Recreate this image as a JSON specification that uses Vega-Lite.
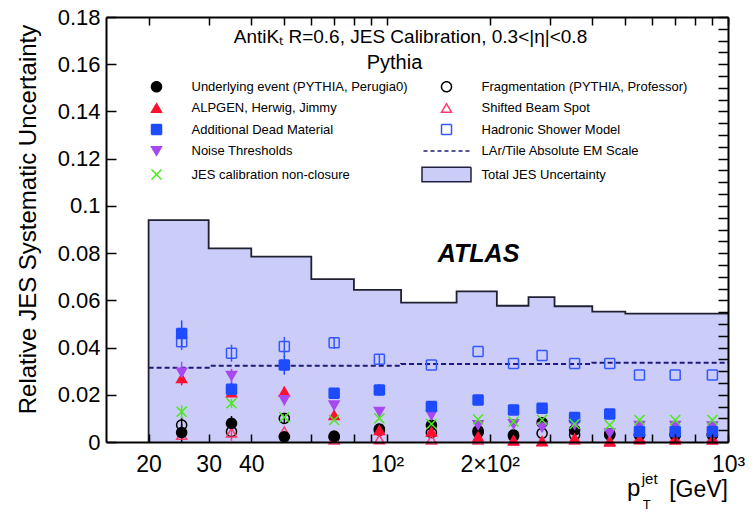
{
  "$schema": "https://vega.github.io/schema/vega-lite/v6.json",
  "width": 622,
  "height": 425,
  "autosize": {"type": "none"},
  "padding": {"left": 106, "top": 17, "right": 25, "bottom": 70},
  "background": "white",
  "config": {
    "view": {"stroke": null},
    "font": "Liberation Sans",
    "axis": {"grid": false, "labelColor": "#000000", "labelFont": "Liberation Sans", "labelFlush": false, "labelOverlap": false, "titleColor": "#000000", "titleFont": "Liberation Sans", "titleFontWeight": "normal"}
  },
  "datasets": {
    "total": [
      {"i": 0, "pt": 20, "v": 0},
      {"i": 1, "pt": 20, "v": 0.094},
      {"i": 2, "pt": 30, "v": 0.082},
      {"i": 3, "pt": 40, "v": 0.0785},
      {"i": 4, "pt": 60, "v": 0.069},
      {"i": 5, "pt": 80, "v": 0.0644},
      {"i": 6, "pt": 110, "v": 0.059},
      {"i": 7, "pt": 160, "v": 0.0638},
      {"i": 8, "pt": 210, "v": 0.0577},
      {"i": 9, "pt": 260, "v": 0.0614},
      {"i": 10, "pt": 310, "v": 0.0575},
      {"i": 11, "pt": 400, "v": 0.0552},
      {"i": 12, "pt": 500, "v": 0.0544},
      {"i": 13, "pt": 600, "v": 0.0544},
      {"i": 14, "pt": 800, "v": 0.0544},
      {"i": 15, "pt": 1000, "v": 0.0544}
    ],
    "lar": [
      {"pt": 20, "v": 0.0315},
      {"pt": 30, "v": 0.0323},
      {"pt": 110, "v": 0.033},
      {"pt": 400, "v": 0.0336},
      {"pt": 1000, "v": 0.0336}
    ],
    "pts": [
      {"pt": 25, "Hadronic Shower Model": 0.0425, "Fragmentation (PYTHIA, Professor)": 0.0072, "Shifted Beam Spot": 0.003, "Underlying event (PYTHIA, Perugia0)": 0.004, "ALPGEN, Herwig, Jimmy": 0.027, "Noise Thresholds": 0.0294, "Additional Dead Material": 0.046, "JES calibration non-closure": 0.0128},
      {"pt": 35, "Hadronic Shower Model": 0.0376, "Fragmentation (PYTHIA, Professor)": 0.0044, "Shifted Beam Spot": 0.004, "Underlying event (PYTHIA, Perugia0)": 0.0079, "ALPGEN, Herwig, Jimmy": 0.021, "Noise Thresholds": 0.028, "Additional Dead Material": 0.0223, "JES calibration non-closure": 0.0164},
      {"pt": 50, "Hadronic Shower Model": 0.0404, "Fragmentation (PYTHIA, Professor)": 0.01, "Shifted Beam Spot": 0.0045, "Underlying event (PYTHIA, Perugia0)": 0.0022, "ALPGEN, Herwig, Jimmy": 0.0213, "Noise Thresholds": 0.0178, "Additional Dead Material": 0.0326, "JES calibration non-closure": 0.0105},
      {"pt": 70, "Hadronic Shower Model": 0.042, "Fragmentation (PYTHIA, Professor)": 0.002, "Shifted Beam Spot": 0.001, "Underlying event (PYTHIA, Perugia0)": 0.0025, "ALPGEN, Herwig, Jimmy": 0.0114, "Noise Thresholds": 0.0155, "Additional Dead Material": 0.0206, "JES calibration non-closure": 0.0093},
      {"pt": 95, "Hadronic Shower Model": 0.035, "Fragmentation (PYTHIA, Professor)": 0.005, "Shifted Beam Spot": 0.0011, "Underlying event (PYTHIA, Perugia0)": 0.0055, "ALPGEN, Herwig, Jimmy": 0.005, "Noise Thresholds": 0.0128, "Additional Dead Material": 0.022, "JES calibration non-closure": 0.01},
      {"pt": 135, "Hadronic Shower Model": 0.0326, "Fragmentation (PYTHIA, Professor)": 0.004, "Shifted Beam Spot": 0.001, "Underlying event (PYTHIA, Perugia0)": 0.0071, "ALPGEN, Herwig, Jimmy": 0.0044, "Noise Thresholds": 0.0114, "Additional Dead Material": 0.015, "JES calibration non-closure": 0.0076},
      {"pt": 185, "Hadronic Shower Model": 0.0383, "Fragmentation (PYTHIA, Professor)": 0.004, "Shifted Beam Spot": 0.001, "Underlying event (PYTHIA, Perugia0)": 0.0048, "ALPGEN, Herwig, Jimmy": 0.0023, "Noise Thresholds": 0.0072, "Additional Dead Material": 0.0178, "JES calibration non-closure": 0.0096},
      {"pt": 235, "Hadronic Shower Model": 0.0333, "Fragmentation (PYTHIA, Professor)": 0.0025, "Shifted Beam Spot": 0.0005, "Underlying event (PYTHIA, Perugia0)": 0.003, "ALPGEN, Herwig, Jimmy": 0.0008, "Noise Thresholds": 0.0076, "Additional Dead Material": 0.0136, "JES calibration non-closure": 0.0086},
      {"pt": 285, "Hadronic Shower Model": 0.0366, "Fragmentation (PYTHIA, Professor)": 0.0037, "Shifted Beam Spot": 0.0005, "Underlying event (PYTHIA, Perugia0)": 0.0082, "ALPGEN, Herwig, Jimmy": 0.0002, "Noise Thresholds": 0.0062, "Additional Dead Material": 0.0143, "JES calibration non-closure": 0.0094},
      {"pt": 355, "Hadronic Shower Model": 0.0333, "Fragmentation (PYTHIA, Professor)": 0.003, "Shifted Beam Spot": 0.001, "Underlying event (PYTHIA, Perugia0)": 0.0051, "ALPGEN, Herwig, Jimmy": 0.0016, "Noise Thresholds": 0.0072, "Additional Dead Material": 0.0104, "JES calibration non-closure": 0.0076},
      {"pt": 450, "Hadronic Shower Model": 0.0333, "Fragmentation (PYTHIA, Professor)": 0.003, "Shifted Beam Spot": 0.0, "Underlying event (PYTHIA, Perugia0)": 0.0035, "ALPGEN, Herwig, Jimmy": 0.0005, "Noise Thresholds": 0.0037, "Additional Dead Material": 0.0119, "JES calibration non-closure": 0.0072},
      {"pt": 550, "Hadronic Shower Model": 0.0284, "Fragmentation (PYTHIA, Professor)": 0.003, "Shifted Beam Spot": 0.002, "Underlying event (PYTHIA, Perugia0)": 0.003, "ALPGEN, Herwig, Jimmy": 0.0011, "Noise Thresholds": 0.0068, "Additional Dead Material": 0.0044, "JES calibration non-closure": 0.0093},
      {"pt": 700, "Hadronic Shower Model": 0.0284, "Fragmentation (PYTHIA, Professor)": 0.003, "Shifted Beam Spot": 0.002, "Underlying event (PYTHIA, Perugia0)": 0.003, "ALPGEN, Herwig, Jimmy": 0.001, "Noise Thresholds": 0.0068, "Additional Dead Material": 0.0044, "JES calibration non-closure": 0.0093},
      {"pt": 900, "Hadronic Shower Model": 0.0284, "Fragmentation (PYTHIA, Professor)": 0.003, "Shifted Beam Spot": 0.002, "Underlying event (PYTHIA, Perugia0)": 0.003, "ALPGEN, Herwig, Jimmy": 0.001, "Noise Thresholds": 0.0066, "Additional Dead Material": 0.0044, "JES calibration non-closure": 0.0093}
    ],
    "errs": [
      {"pt": 25, "s": "Hadronic Shower Model", "lo": 0.039, "hi": 0.046},
      {"pt": 25, "s": "Additional Dead Material", "lo": 0.0405, "hi": 0.0515},
      {"pt": 25, "s": "Noise Thresholds", "lo": 0.0245, "hi": 0.034},
      {"pt": 25, "s": "ALPGEN, Herwig, Jimmy", "lo": 0.024, "hi": 0.03},
      {"pt": 25, "s": "Underlying event (PYTHIA, Perugia0)", "lo": 0.0, "hi": 0.0075},
      {"pt": 25, "s": "Fragmentation (PYTHIA, Professor)", "lo": 0.004, "hi": 0.0105},
      {"pt": 25, "s": "JES calibration non-closure", "lo": 0.01, "hi": 0.0155},
      {"pt": 35, "s": "Hadronic Shower Model", "lo": 0.034, "hi": 0.0412},
      {"pt": 35, "s": "Additional Dead Material", "lo": 0.019, "hi": 0.0256},
      {"pt": 35, "s": "Noise Thresholds", "lo": 0.025, "hi": 0.031},
      {"pt": 35, "s": "Underlying event (PYTHIA, Perugia0)", "lo": 0.005, "hi": 0.011},
      {"pt": 35, "s": "Shifted Beam Spot", "lo": 0.0005, "hi": 0.0075},
      {"pt": 35, "s": "JES calibration non-closure", "lo": 0.0145, "hi": 0.0183},
      {"pt": 50, "s": "Hadronic Shower Model", "lo": 0.036, "hi": 0.0445},
      {"pt": 50, "s": "Additional Dead Material", "lo": 0.0285, "hi": 0.0365},
      {"pt": 50, "s": "ALPGEN, Herwig, Jimmy", "lo": 0.019, "hi": 0.0235},
      {"pt": 50, "s": "Noise Thresholds", "lo": 0.0155, "hi": 0.02},
      {"pt": 50, "s": "Underlying event (PYTHIA, Perugia0)", "lo": 0.0, "hi": 0.0045},
      {"pt": 50, "s": "Fragmentation (PYTHIA, Professor)", "lo": 0.008, "hi": 0.012},
      {"pt": 70, "s": "Hadronic Shower Model", "lo": 0.0395, "hi": 0.0445},
      {"pt": 70, "s": "Additional Dead Material", "lo": 0.0185, "hi": 0.0225},
      {"pt": 70, "s": "Noise Thresholds", "lo": 0.013, "hi": 0.017},
      {"pt": 95, "s": "Hadronic Shower Model", "lo": 0.033, "hi": 0.037},
      {"pt": 95, "s": "Additional Dead Material", "lo": 0.0195, "hi": 0.0245},
      {"pt": 95, "s": "Noise Thresholds", "lo": 0.011, "hi": 0.0145},
      {"pt": 135, "s": "Additional Dead Material", "lo": 0.0135, "hi": 0.0165}
    ]
  },
  "layer": [
    {
      "layer": [
        {
          "data": {"name": "total"},
          "transform": [{"filter": "datum.v > 0"}],
          "mark": {"type": "area", "interpolate": "step-after", "color": "#ccccf8", "opacity": 1},
          "encoding": {
            "x": {"field": "pt", "type": "quantitative", "scale": {"type": "log", "domain": [15, 1000], "nice": false},
              "axis": {"orient": "bottom", "title": null, "domain": true, "ticks": true, "zindex": 2, "domainColor": "#000000", "domainWidth": 2, "tickColor": "#000000", "tickWidth": 1.5, "tickSize": -8,
                "values": [20, 30, 40, 50, 60, 70, 80, 90, 100, 200, 300, 400, 500, 600, 700, 800, 900, 1000],
                "labelExpr": "datum.value == 100 ? '10²' : datum.value == 200 ? '2×10²' : datum.value == 1000 ? '10³' : datum.value == 20 ? '20' : datum.value == 30 ? '30' : datum.value == 40 ? '40' : ''",
                "labelFontSize": 23, "labelPadding": 19, "labelBaseline": "top",
                "encode": {"ticks": {"y2": {"value": {"expr": "(datum.value == 100 || datum.value == 1000) ? -14 : -8"}}}}}},
            "y": {"field": "v", "type": "quantitative", "scale": {"domain": [0, 0.18], "nice": false, "zero": false},
              "axis": {"orient": "left", "domain": true, "ticks": true, "zindex": 2, "domainColor": "#000000", "domainWidth": 2, "tickColor": "#000000", "tickWidth": 1.5, "tickSize": -10,
                "values": [0, 0.005, 0.01, 0.015, 0.02, 0.025, 0.03, 0.035, 0.04, 0.045, 0.05, 0.055, 0.06, 0.065, 0.07, 0.075, 0.08, 0.085, 0.09, 0.095, 0.1, 0.105, 0.11, 0.115, 0.12, 0.125, 0.13, 0.135, 0.14, 0.145, 0.15, 0.155, 0.16, 0.165, 0.17, 0.175, 0.18],
                "labelExpr": "abs(datum.value*50 - round(datum.value*50)) < 0.001 ? toString(round(datum.value*100)/100) : ''",
                "labelFontSize": 22, "labelPadding": 16,
                "title": "Relative JES Systematic Uncertainty", "titleFontSize": 24, "titleX": -78, "titleY": 202, "titleBaseline": "middle", "titleAlign": "center", "titleAngle": 270,
                "encode": {"ticks": {"x2": {"value": {"expr": "abs(datum.value*50 - round(datum.value*50)) < 0.001 ? 19 : 10"}}}}}}
          }
        },
        {
          "data": {"name": "lar"},
          "mark": {"type": "line", "interpolate": "step-after", "color": "#1c1c78", "strokeWidth": 2, "strokeDash": [5, 3]},
          "encoding": {
            "x": {"field": "pt", "type": "quantitative"},
            "y": {"field": "v", "type": "quantitative"}
          }
        },
        {
          "data": {"name": "errs"},
          "mark": {"type": "rule", "strokeWidth": 1.5},
          "encoding": {
            "x": {"field": "pt", "type": "quantitative"},
            "y": {"field": "lo", "type": "quantitative"},
            "y2": {"field": "hi"},
            "color": {"field": "s", "type": "nominal", "legend": null,
              "scale": {"domain": ["Underlying event (PYTHIA, Perugia0)", "Fragmentation (PYTHIA, Professor)", "ALPGEN, Herwig, Jimmy", "Shifted Beam Spot", "Additional Dead Material", "Hadronic Shower Model", "Noise Thresholds", "JES calibration non-closure"],
                "range": ["#000000", "#000000", "#ff1030", "#ff3a6e", "#1f4bff", "#3357ff", "#a848f0", "#4be81e"]}}
          }
        },
        {
          "data": {"name": "pts"},
          "transform": [{"fold": ["Hadronic Shower Model", "Fragmentation (PYTHIA, Professor)", "Shifted Beam Spot", "Underlying event (PYTHIA, Perugia0)", "ALPGEN, Herwig, Jimmy", "Noise Thresholds", "Additional Dead Material", "JES calibration non-closure"], "as": ["s", "v"]}],
          "mark": {"type": "point", "size": 100, "strokeWidth": 1.5, "opacity": 1},
          "encoding": {
            "x": {"field": "pt", "type": "quantitative"},
            "y": {"field": "v", "type": "quantitative"},
            "shape": {"field": "s", "type": "nominal",
              "scale": {"domain": ["Underlying event (PYTHIA, Perugia0)", "ALPGEN, Herwig, Jimmy", "Additional Dead Material", "Noise Thresholds", "JES calibration non-closure", "Fragmentation (PYTHIA, Professor)", "Shifted Beam Spot", "Hadronic Shower Model", "LAr/Tile Absolute EM Scale", "Total JES Uncertainty"],
                "range": ["circle", "triangle-up", "square", "triangle-down", "M-1,-1L1,1M-1,1L1,-1", "circle", "triangle-up", "square", "M-4.6,0H4.6", "M-4.9,-1.44H4.9V1.44H-4.9Z"]},
              "legend": {"title": null, "orient": "none", "legendX": 44, "legendY": 63, "columns": 2, "columnPadding": 11, "rowPadding": 5.5, "symbolSize": 100, "symbolStrokeWidth": 1.5, "symbolOpacity": 1, "labelFont": "Liberation Sans", "labelFontSize": 13, "labelColor": "#000000", "labelOffset": 28.5, "labelLimit": 400, "padding": 0, "zindex": 2}},
            "stroke": {"field": "s", "type": "nominal",
              "scale": {"domain": ["Underlying event (PYTHIA, Perugia0)", "ALPGEN, Herwig, Jimmy", "Additional Dead Material", "Noise Thresholds", "JES calibration non-closure", "Fragmentation (PYTHIA, Professor)", "Shifted Beam Spot", "Hadronic Shower Model", "LAr/Tile Absolute EM Scale", "Total JES Uncertainty"],
                "range": ["#000000", "#ff1030", "#1f4bff", "#a848f0", "#4be81e", "#000000", "#ff3a6e", "#3357ff", "#1c1c78", "#202040"]}},
            "fill": {"field": "s", "type": "nominal",
              "scale": {"domain": ["Underlying event (PYTHIA, Perugia0)", "ALPGEN, Herwig, Jimmy", "Additional Dead Material", "Noise Thresholds", "JES calibration non-closure", "Fragmentation (PYTHIA, Professor)", "Shifted Beam Spot", "Hadronic Shower Model", "LAr/Tile Absolute EM Scale", "Total JES Uncertainty"],
                "range": ["#000000", "#ff1030", "#1f4bff", "#a848f0", "transparent", "transparent", "transparent", "transparent", "transparent", "#ccccf8"]}},
            "strokeDash": {"field": "s", "type": "nominal",
              "scale": {"domain": ["Underlying event (PYTHIA, Perugia0)", "ALPGEN, Herwig, Jimmy", "Additional Dead Material", "Noise Thresholds", "JES calibration non-closure", "Fragmentation (PYTHIA, Professor)", "Shifted Beam Spot", "Hadronic Shower Model", "LAr/Tile Absolute EM Scale", "Total JES Uncertainty"],
                "range": [[1, 0], [1, 0], [1, 0], [1, 0], [1, 0], [1, 0], [1, 0], [1, 0], [4, 3], [1, 0]]}}
          }
        },
        {
          "data": {"values": [{}]},
          "mark": {"type": "text", "text": "AntiKₜ R=0.6, JES Calibration, 0.3<|η|<0.8", "font": "Liberation Sans", "fontSize": 19, "align": "center", "baseline": "alphabetic", "color": "#000000"},
          "encoding": {"x": {"datum": 117.2}, "y": {"datum": 0.1689}}
        },
        {
          "data": {"values": [{}]},
          "mark": {"type": "text", "text": "Pythia", "font": "Liberation Sans", "fontSize": 20, "align": "center", "baseline": "alphabetic", "color": "#000000"},
          "encoding": {"x": {"datum": 105.2}, "y": {"datum": 0.1579}}
        },
        {
          "data": {"values": [{}]},
          "mark": {"type": "text", "text": "ATLAS", "font": "Liberation Sans", "fontSize": 25, "fontWeight": "bold", "fontStyle": "italic", "align": "left", "baseline": "alphabetic", "color": "#000000"},
          "encoding": {"x": {"datum": 141}, "y": {"datum": 0.0762}}
        },
        {
          "data": {"values": [{}]},
          "mark": {"type": "text", "text": "p", "font": "Liberation Sans", "fontSize": 24, "align": "left", "baseline": "alphabetic", "color": "#000000"},
          "encoding": {"x": {"datum": 506}, "y": {"datum": -0.0228}}
        },
        {
          "data": {"values": [{}]},
          "mark": {"type": "text", "text": "jet", "font": "Liberation Sans", "fontSize": 15, "align": "left", "baseline": "alphabetic", "color": "#000000"},
          "encoding": {"x": {"datum": 558.6}, "y": {"datum": -0.0178}}
        },
        {
          "data": {"values": [{}]},
          "mark": {"type": "text", "text": "T", "font": "Liberation Sans", "fontSize": 13, "align": "left", "baseline": "alphabetic", "color": "#000000"},
          "encoding": {"x": {"datum": 562.4}, "y": {"datum": -0.0282}}
        },
        {
          "data": {"values": [{}]},
          "mark": {"type": "text", "text": "[GeV]", "font": "Liberation Sans", "fontSize": 23, "align": "right", "baseline": "alphabetic", "color": "#000000"},
          "encoding": {"x": {"datum": 1000}, "y": {"datum": -0.0233}}
        }
      ]
    },
    {
      "data": {"name": "total"},
      "mark": {"type": "line", "interpolate": "step-after", "color": "#202033", "strokeWidth": 1.8},
      "encoding": {
        "x": {"field": "pt", "type": "quantitative", "scale": {"type": "log", "domain": [15, 1000], "nice": false},
          "axis": {"orient": "top", "title": null, "labels": false, "domain": true, "ticks": true, "zindex": 2, "domainColor": "#000000", "domainWidth": 2, "tickColor": "#000000", "tickWidth": 1.5, "tickSize": -8,
            "values": [20, 30, 40, 50, 60, 70, 80, 90, 100, 200, 300, 400, 500, 600, 700, 800, 900, 1000],
            "encode": {"ticks": {"y2": {"value": {"expr": "(datum.value == 100 || datum.value == 1000) ? 14 : 8"}}}}}},
        "y": {"field": "v", "type": "quantitative", "scale": {"domain": [0, 0.18], "nice": false, "zero": false},
          "axis": {"orient": "right", "title": null, "labels": false, "domain": true, "ticks": true, "zindex": 2, "domainColor": "#000000", "domainWidth": 2, "tickColor": "#000000", "tickWidth": 1.5, "tickSize": -10,
            "values": [0, 0.005, 0.01, 0.015, 0.02, 0.025, 0.03, 0.035, 0.04, 0.045, 0.05, 0.055, 0.06, 0.065, 0.07, 0.075, 0.08, 0.085, 0.09, 0.095, 0.1, 0.105, 0.11, 0.115, 0.12, 0.125, 0.13, 0.135, 0.14, 0.145, 0.15, 0.155, 0.16, 0.165, 0.17, 0.175, 0.18],
            "encode": {"ticks": {"x2": {"value": {"expr": "abs(datum.value*50 - round(datum.value*50)) < 0.001 ? -19 : -10"}}}}}},
        "order": {"field": "i"}
      }
    }
  ],
  "resolve": {"scale": {"x": "independent", "y": "independent"}}
}
